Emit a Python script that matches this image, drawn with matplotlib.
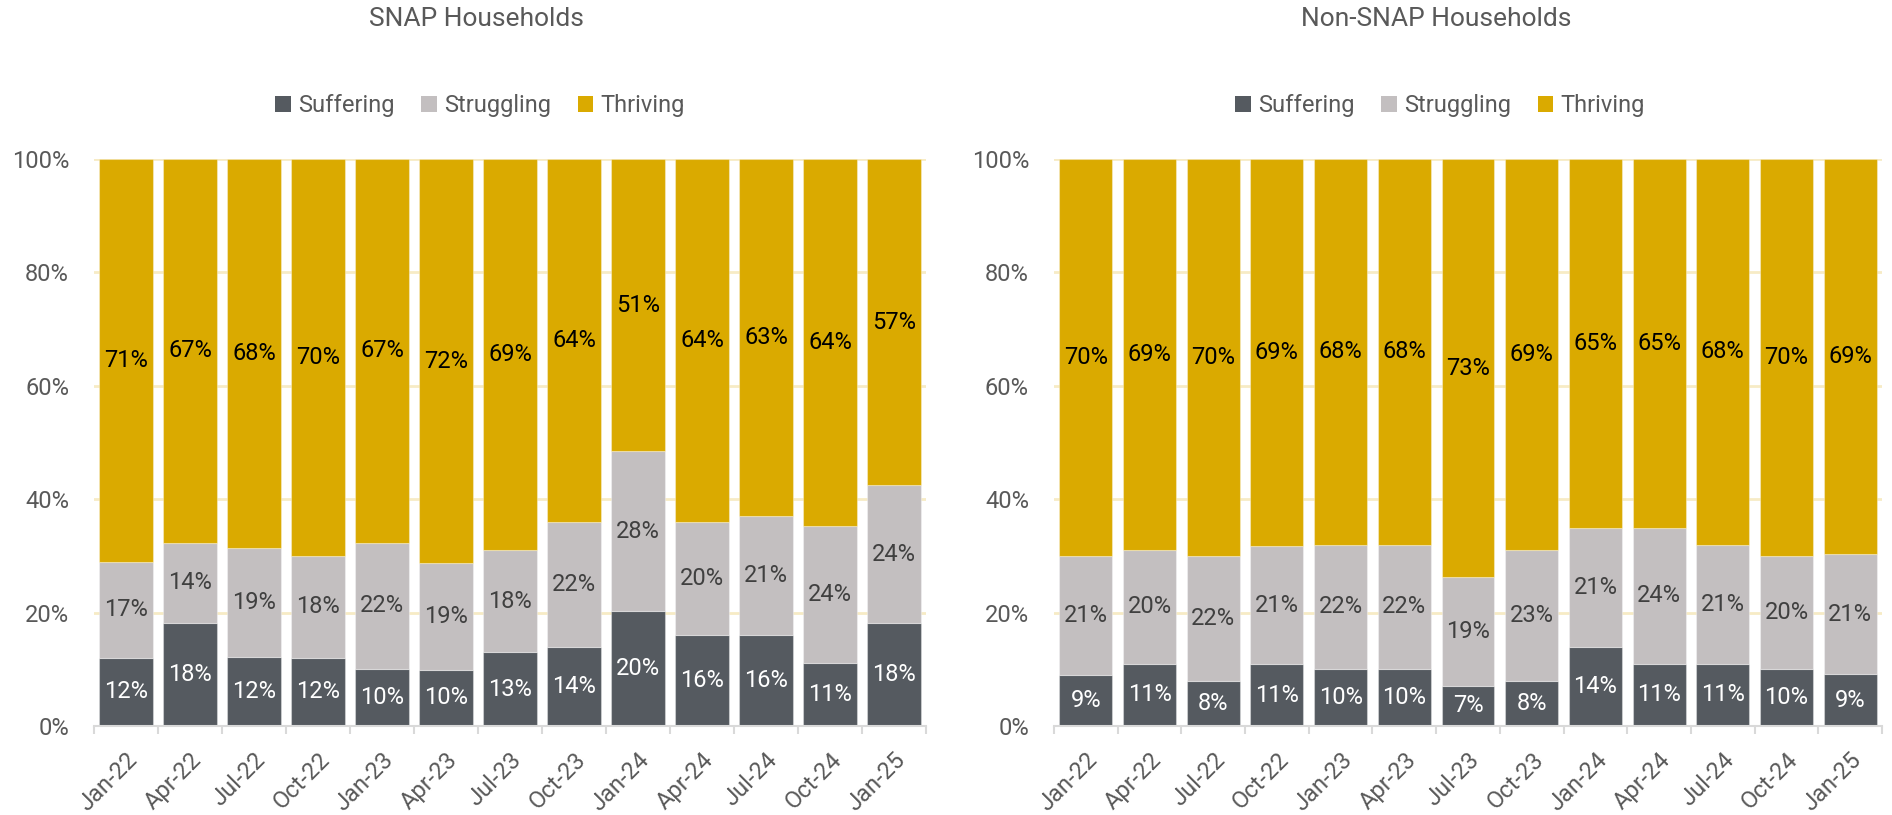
import matplotlib
matplotlib.use("Agg")
import matplotlib.pyplot as plt
import numpy as np
from matplotlib.patches import Patch

plt.rcParams['font.family'] = ['Roboto', 'DejaVu Sans']

quarters = ["Jan-22", "Apr-22", "Jul-22", "Oct-22", "Jan-23", "Apr-23", "Jul-23",
            "Oct-23", "Jan-24", "Apr-24", "Jul-24", "Oct-24", "Jan-25"]
series_names = ["Suffering", "Struggling", "Thriving"]

snap_suffering = [12, 18, 12, 12, 10, 10, 13, 14, 20, 16, 16, 11, 18]
snap_struggling = [17, 14, 19, 18, 22, 19, 18, 22, 28, 20, 21, 24, 24]
snap_thriving = [71, 67, 68, 70, 67, 72, 69, 64, 51, 64, 63, 64, 57]

non_suffering = [9, 11, 8, 11, 10, 10, 7, 8, 14, 11, 11, 10, 9]
non_struggling = [21, 20, 22, 21, 22, 22, 19, 23, 21, 24, 21, 20, 21]
non_thriving = [70, 69, 70, 69, 68, 68, 73, 69, 65, 65, 68, 70, 69]

y_ticks = [0, 0.2, 0.4, 0.6, 0.8, 1.0]
y_tick_labels = ["0%", "20%", "40%", "60%", "80%", "100%"]

colors = ["#555A60", "#C3BFC0", "#DAAA00"]
label_colors = ["#FFFFFF", "#404040", "#000000"]
text_gray = "#595959"
grid_color = "#F7EBC5"
axis_gray = "#D9D9D9"

W, H = 1892, 815
fig = plt.figure(figsize=(W / 100, H / 100), dpi=100)


def draw_panel(rect, series, title, title_x, legend_x):
    ax = fig.add_axes(rect)
    data = np.array(series, dtype=float)
    shares = data / data.sum(axis=0)
    x = np.arange(len(quarters))
    bottom = np.zeros(len(quarters))
    for i in range(3):
        ax.bar(x, shares[i], bottom=bottom, width=0.83, color=colors[i],
               edgecolor=(1, 1, 1, 0.35), linewidth=0.8, zorder=3)
        for xi, b, h, v in zip(x, bottom, shares[i], data[i]):
            ax.text(xi, b + h / 2, f"{int(v)}%", ha="center", va="center",
                    fontsize=17, color=label_colors[i], zorder=4)
        bottom += shares[i]

    ax.set_xlim(-0.5, len(quarters) - 0.5)
    ax.set_ylim(0, 1)
    ax.set_yticks(y_ticks)
    ax.set_yticklabels(y_tick_labels)
    ax.tick_params(axis="y", length=0, pad=18, labelsize=17, labelcolor=text_gray)
    for yv in y_ticks[1:]:
        ax.axhline(yv, color=grid_color, linewidth=2, zorder=1)

    ax.set_xticks(x)
    ax.set_xticklabels(quarters, rotation=45, ha="right", va="top",
                       rotation_mode="anchor")
    ax.tick_params(axis="x", which="major", length=0, pad=16, labelsize=17,
                   labelcolor=text_gray)
    ax.set_xticks(np.arange(-0.5, len(quarters)), minor=True)
    ax.tick_params(axis="x", which="minor", length=6, width=1.5, color=axis_gray)

    for side in ["top", "right", "left"]:
        ax.spines[side].set_visible(False)
    ax.spines["bottom"].set_color(axis_gray)
    ax.spines["bottom"].set_linewidth(1.5)
    ax.spines["bottom"].set_zorder(5)

    fig.text(title_x / W, 1 - 19 / H, title, ha="center", va="center",
             fontsize=19, color=text_gray)
    handles = [Patch(facecolor=c, edgecolor="none") for c in colors]
    fig.legend(handles, series_names, loc="center",
               bbox_to_anchor=(legend_x / W, 1 - 105.5 / H), ncol=3,
               frameon=False, fontsize=17, labelcolor=text_gray,
               handlelength=0.65, handleheight=0.65, handletextpad=0.3,
               columnspacing=1.15)
    return ax


bottom_frac = (H - 726) / H
height_frac = 567 / H
draw_panel([94 / W, bottom_frac, 832 / W, height_frac],
           [snap_suffering, snap_struggling, snap_thriving],
           "SNAP Households", 476, 480)
draw_panel([1054 / W, bottom_frac, 828 / W, height_frac],
           [non_suffering, non_struggling, non_thriving],
           "Non-SNAP Households", 1436, 1440)

fig.savefig("out.png", dpi=100, facecolor="white")
